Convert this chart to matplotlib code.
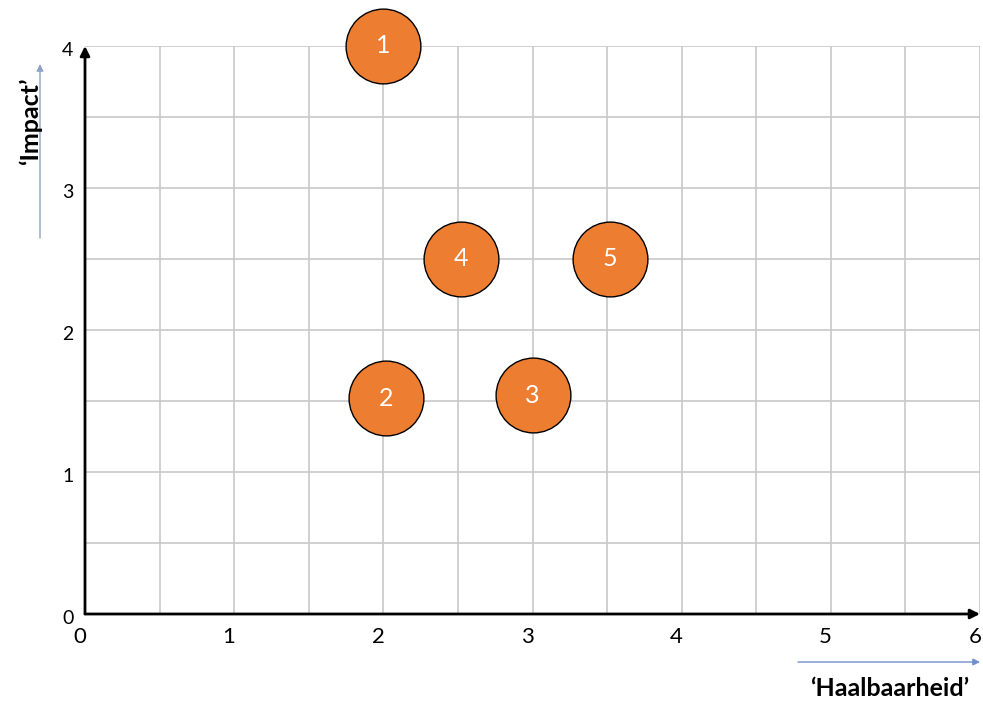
import matplotlib
matplotlib.use('Agg')
import matplotlib.pyplot as plt
import numpy as np

plt.rcParams['font.family'] = ['Lato', 'DejaVu Sans']

# data
labels = ['1', '2', '3', '4', '5']
haalbaarheid = [2.0, 2.02, 3.0, 2.52, 3.52]
impact = [4.0, 1.52, 1.54, 2.5, 2.5]

x_ticks = [0, 1, 2, 3, 4, 5, 6]
y_ticks = [0, 1, 2, 3, 4]

fig = plt.figure(figsize=(9.83, 7.02), dpi=100)
ax = fig.add_axes([85 / 983, 88 / 702, 895 / 983, 568 / 702])
ax.set_xlim(0, 6)
ax.set_ylim(0, 4)

# grid every 0.5
for gx in np.arange(0.5, 6.01, 0.5):
    ax.axvline(gx, color='#c8c8c8', lw=1.2, zorder=0)
for gy in np.arange(0.5, 4.01, 0.5):
    ax.axhline(gy, color='#c8c8c8', lw=1.2, zorder=0)

for s in ax.spines.values():
    s.set_visible(False)
ax.set_xticks([])
ax.set_yticks([])

# axes as arrows
ax.annotate('', xy=(1.0, 0), xytext=(0, 0), xycoords='axes fraction',
            arrowprops=dict(arrowstyle='-|>', color='black', lw=2, mutation_scale=14,
                            shrinkA=0, shrinkB=0), zorder=3)
ax.annotate('', xy=(0, 1.0), xytext=(0, 0), xycoords='axes fraction',
            arrowprops=dict(arrowstyle='-|>', color='black', lw=2, mutation_scale=14,
                            shrinkA=0, shrinkB=0), zorder=3)

# tick labels
for t in x_ticks:
    ax.text(t - 0.035, -0.16, str(t), ha='center', va='center', fontsize=16, color='black')
for t in y_ticks:
    ax.text(-0.115, t - 0.03, str(t), ha='center', va='center',
            fontsize=14, color='black')

# bubbles
ax.scatter(haalbaarheid, impact, s=2900, color='#ED7D31', edgecolor='black',
           linewidth=1, zorder=5, clip_on=False)
for lab, x, y in zip(labels, haalbaarheid, impact):
    ax.text(x, y, lab, ha='center', va='center', fontsize=18, color='white', zorder=6)

# axis titles with blue arrows
fig.text(30 / 983, 1 - 121 / 702, '\u2018Impact\u2019', rotation=90, ha='center',
         va='center', fontsize=18, fontweight='bold')
fig.text(890 / 983, 1 - 688 / 702, '\u2018Haalbaarheid\u2019', ha='center',
         va='center', fontsize=18, fontweight='bold')
fig.patches.append(matplotlib.patches.FancyArrowPatch(
    (40 / 983, 1 - 238 / 702), (40 / 983, 1 - 64 / 702), transform=fig.transFigure,
    arrowstyle='-|>', mutation_scale=10, lw=1, color='#8fa3c8', shrinkA=0, shrinkB=0))
fig.patches.append(matplotlib.patches.FancyArrowPatch(
    (798 / 983, 1 - 662 / 702), (980 / 983, 1 - 662 / 702), transform=fig.transFigure,
    arrowstyle='-|>', mutation_scale=10, lw=1, color='#6f8fcf', shrinkA=0, shrinkB=0))

fig.savefig('out.png', dpi=100)
